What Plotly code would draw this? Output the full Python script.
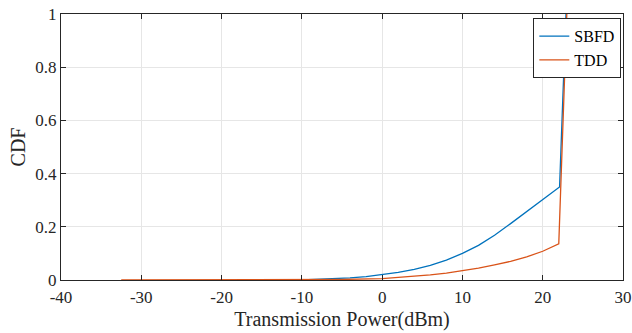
import plotly.graph_objects as go

sbfd_x = [-10, -8, -6, -4, -2, 0, 2, 4, 6, 8, 10, 12, 14, 16, 18, 20, 22.1, 22.5, 22.9]
sbfd_y = [0.0, 0.002, 0.004, 0.008, 0.013, 0.021, 0.029, 0.04, 0.055, 0.075, 0.1, 0.13, 0.168, 0.212, 0.258, 0.303, 0.35, 0.68, 1.0]

tdd_x = [-32.5, -25, -20, -15, -10, -5, 0, 2, 4, 6, 8, 10, 12, 14, 16, 18, 20, 22.0, 22.5, 23.0]
tdd_y = [0.0, 0.0, 0.0, 0.0, 0.0005, 0.002, 0.005, 0.009, 0.013, 0.019, 0.026, 0.035, 0.045, 0.057, 0.07, 0.087, 0.108, 0.136, 0.57, 1.0]

x_ticks = [-40, -30, -20, -10, 0, 10, 20, 30]
y_ticks = [0, 0.2, 0.4, 0.6, 0.8, 1]

font_family = "Liberation Serif, Times New Roman, Times, serif"
axis_color = "#262626"

fig = go.Figure()
fig.add_trace(go.Scatter(x=sbfd_x, y=sbfd_y, mode="lines", name="SBFD",
                         line=dict(color="#0072BD", width=1.3)))
fig.add_trace(go.Scatter(x=tdd_x, y=tdd_y, mode="lines", name="TDD",
                         line=dict(color="#D95319", width=1.3)))

axis_common = dict(
    showline=True, linecolor=axis_color, linewidth=1, mirror="ticks",
    ticks="inside", ticklen=5, tickcolor=axis_color, tickwidth=1,
    showgrid=True, gridcolor="#e6e6e6", gridwidth=1, zeroline=False,
    automargin=False, ticklabeloverflow="allow",
    tickfont=dict(family=font_family, size=17, color=axis_color),
)

fig.update_layout(
    width=632, height=333,
    margin=dict(l=61, r=9, t=14, b=53),
    paper_bgcolor="white", plot_bgcolor="white",
    font=dict(family=font_family, color=axis_color),
    xaxis=dict(range=[-40, 30], tickvals=x_ticks,
               ticktext=[str(v) for v in x_ticks],
               ticklabelstandoff=2,
               title=dict(text="Transmission Power(dBm)", font=dict(size=20, family=font_family), standoff=5),
               **axis_common),
    yaxis=dict(range=[0, 1], tickvals=y_ticks,
               ticktext=["0", "0.2", "0.4", "0.6", "0.8", "1"],
               title=dict(text="CDF", font=dict(size=20, family=font_family), standoff=4),
               **axis_common),
    legend=dict(x=0.997, y=0.984, xanchor="right", yanchor="top",
                bgcolor="white", bordercolor=axis_color, borderwidth=1,
                font=dict(family=font_family, size=16, color="black"),
                tracegroupgap=0, itemwidth=30),
    showlegend=True,
)

fig.write_html("out.html", config={"displayModeBar": False},
               post_script="document.body.style.margin='0';")
